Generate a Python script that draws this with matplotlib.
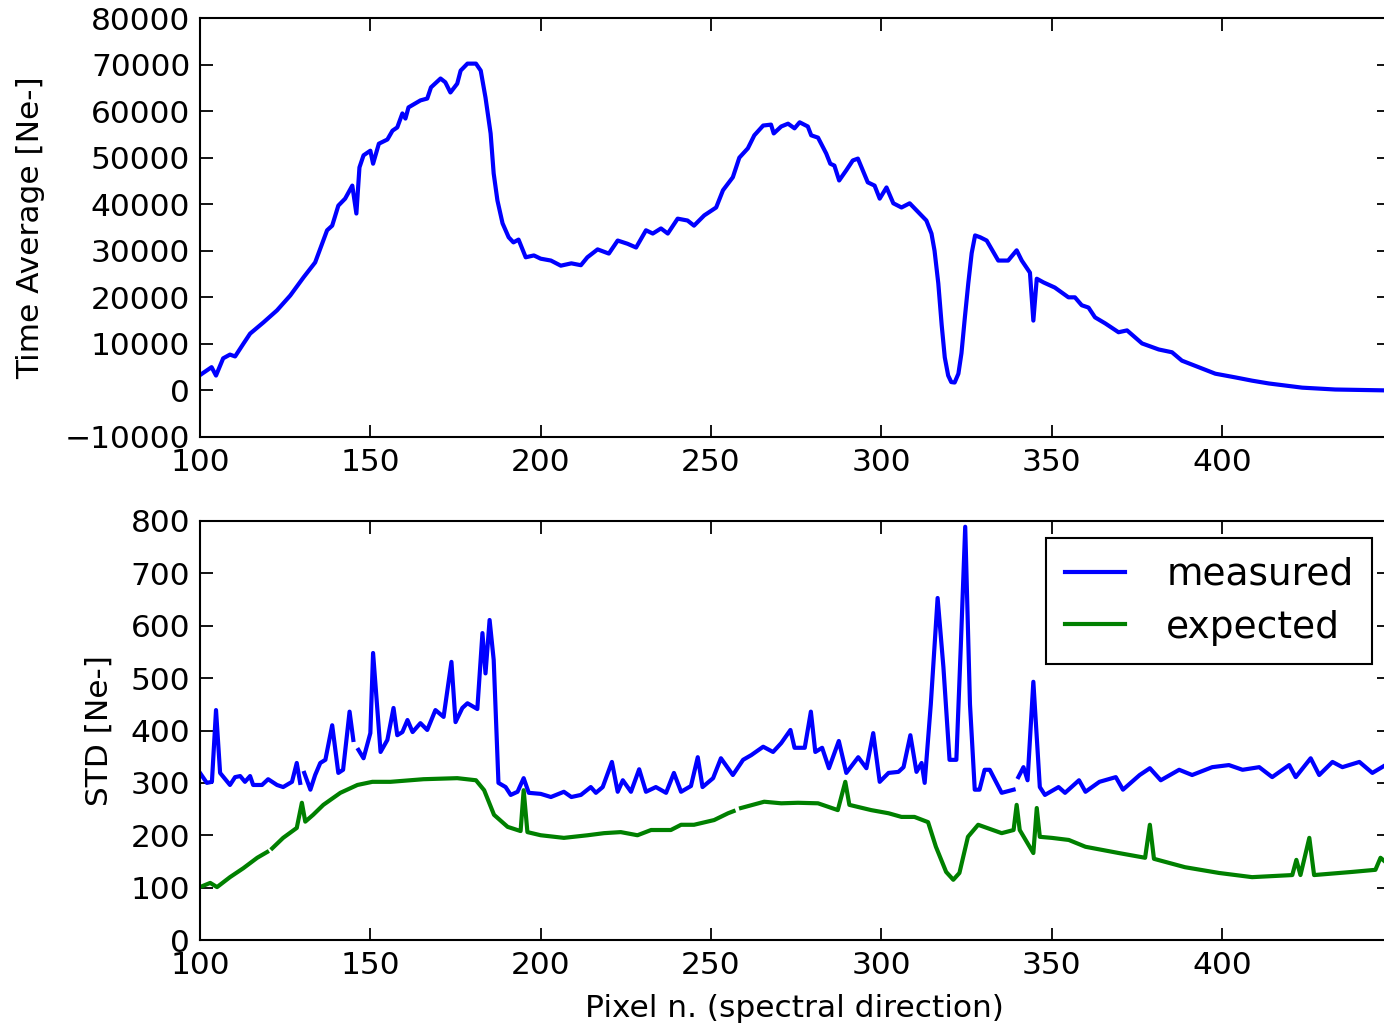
import numpy as np
import matplotlib
matplotlib.use("Agg")
import matplotlib.pyplot as plt

nan = np.nan

# ---------------- top panel: time average ----------------
x_avg = [100, 103.4, 104.7, 106.8, 108.8, 110.3, 112.7, 114.7, 118.6, 122.6, 126.5, 130.4,
         133.8, 137.3, 138.8, 140.6, 142.6, 144.7, 145.9, 146.8, 148, 150, 150.8, 152.5,
         155, 156.5, 157.9, 159.4, 160.3, 161.2, 164.7, 166.7, 167.8, 170.6, 172, 173.5,
         175.5, 176.5, 178.5, 181, 182.4, 183.8, 185.3, 186.2, 187.3, 188.8, 190.6, 192,
         193.5, 195.6, 198, 200, 203, 205.9, 209, 211.8, 213.7, 216.7, 220, 222.6, 225.5,
         228, 230.9, 232.9, 235.3, 237.3, 240.2, 243.1, 245, 248, 251.5, 253.5, 256.4,
         258.3, 260.8, 262.7, 265.3, 267.6, 268.4, 270.6, 272.6, 274.5, 276, 278.4, 279.4,
         281.4, 283.8, 285, 286.2, 287.6, 289.7, 291.6, 293.1, 296, 298, 299.5, 301.5,
         303.5, 305.9, 308.3, 310.3, 313.2, 314.7, 315.6, 316.7, 317.7, 318.6, 319.6, 320.5,
         321.5, 322.6, 323.5, 324.5, 325.5, 326.5, 327.5, 329, 330.9, 334.3, 337.2, 339.7,
         341.2, 343.6, 344.6, 345.6, 347.6, 350.9, 354.9, 356.8, 358.8, 360.8, 362.7, 365.7,
         369.6, 372.1, 376.5, 381.4, 385.3, 388.2, 394.1, 398, 403.9, 408.8, 413.7, 423.5,
         433.2, 449]
time_avg = [3300, 5000, 3200, 6900, 7700, 7300, 10000, 12200, 14600, 17200, 20400, 24300,
            27500, 34400, 35400, 39700, 41200, 44000, 38000, 47900, 50500, 51500, 48700, 53000,
            53900, 55800, 56500, 59500, 58400, 60800, 62300, 62700, 65100, 67000, 66200, 64000,
            65900, 68700, 70200, 70200, 68700, 62900, 55200, 46600, 40800, 35900, 32900, 31800,
            32400, 28600, 29000, 28300, 27900, 26800, 27300, 26900, 28600, 30300, 29400, 32200, 31500,
            30700, 34400, 33700, 34800, 33700, 36900, 36500, 35400, 37600, 39300, 43000, 45800,
            50000, 52000, 54800, 56900, 57100, 55200, 56700, 57300, 56300, 57600, 56700, 54800,
            54300, 50900, 48700, 48300, 45100, 47300, 49400, 49800, 44700, 44000, 41200, 43600,
            40200, 39300, 40200, 38700, 36500, 33700, 30000, 23000, 14000, 7100, 3200, 1800,
            1700, 3600, 8000, 15700, 23000, 29500, 33300, 32900, 32200, 27900, 27900, 30100,
            27900, 25300, 15000, 24000, 23200, 22100, 20000, 20000, 18300, 17800, 15700, 14400,
            12500, 12900, 10100, 8800, 8200, 6400, 4700, 3600, 2800, 2100, 1500, 600,
            200, 0]

# ---------------- bottom panel: STD ----------------
x_meas = [100, 102, 103.5, 104.7, 105.9, 108.8, 110.3, 111.8, 113.2, 114.7, 115.6, 118.2,
          120, 122.6, 124.4, 127, 128.4, 129.4, 130, 130.6, 132.4, 133.8, 135.3, 136.8, 138.8,
          140.6, 142, 143.9, 145, 145.8, 146.5, 148, 150, 150.8, 153, 155, 156.8, 157.9,
          159.4, 160.9, 162.4, 164.7, 166.7, 169.1, 171.5, 173.8, 175, 177, 178.5, 181.4,
          182.9, 183.8, 185, 186.2, 187.6, 189.7, 191.2, 193.2, 195, 196.5, 200, 203, 206.8,
          209, 211.8, 214.7, 216.2, 218.2, 220.9, 222.6, 224.1, 226.5, 228.9, 230.9, 233.8,
          236.8, 239.1, 241.2, 244.1, 246.1, 247.5, 250.6, 252.9, 256.4, 259.4, 261.8, 265.3,
          268.2, 270.6, 273.3, 274.5, 277.5, 279.3, 280.6, 282.6, 284.6, 287.5, 289.7, 293.2,
          295.6, 297.6, 299.5, 302.1, 305, 306.5, 308.5, 310.3, 311.8, 312.7, 314.5, 316.5,
          318.2, 320, 322, 323.3, 324.6, 326, 327.4, 328.8, 330.3, 331.8, 335.3, 338.8, 339.5,
          340.2, 341.7, 342.9, 344.6, 346.5, 348, 352, 353.9, 358, 359.9, 364, 368.8, 370.9,
          375.8, 378.8, 382, 387.4, 391.2, 397.1, 402, 406, 410.9, 414.7, 419.7, 421.6, 426,
          428.5, 432.4, 435.3, 440.3, 444.1, 449]
std_meas = [319, 300, 302, 439, 319, 296, 311, 313, 302, 313, 296, 296,
            307, 296, 292, 302, 338, 300, nan, 319, 287, 315, 338, 344, 410,
            319, 325, 436, 382, nan, 363, 347, 395, 548, 359, 382, 443, 391,
            397, 420, 397, 414, 401, 439, 426, 531, 416, 443, 452, 441,
            586, 509, 611, 535, 300, 292, 277, 283, 309, 281, 279, 273, 283,
            273, 277, 292, 281, 292, 340, 283, 305, 283, 326, 283, 292,
            281, 319, 283, 294, 349, 292, 309, 347, 315, 344, 353, 369,
            359, 376, 401, 367, 367, 436, 359, 367, 328, 380, 319, 349,
            328, 395, 302, 319, 321, 330, 391, 321, 338, 300, 450, 653,
            521, 344, 344, 560, 789, 450, 287, 287, 325, 325, 281, 287, nan,
            311, 330, 305, 493, 292, 277, 292, 281, 305, 283, 302, 311, 287,
            315, 328, 305, 325, 315, 330, 334, 325, 330, 311, 334, 311, 347,
            315, 340, 330, 340, 319, 338]

x_exp = [100, 103, 105, 108.8, 112.7, 116.8, 119.7, 120.3, 121.2, 124.4, 128.4, 129.9, 130.9,
         133.2, 136.2, 141.2, 146.2, 150.6, 155.9, 165.6, 175.5, 181, 183.4, 186.3, 190.3,
         194.1, 195, 196.1, 200, 206.8, 213.8, 218.6, 223.5, 228.4, 232.4, 238.2, 241.2,
         245, 250.9, 255, 256.6, 257.2, 258.8, 265.6, 270.6, 275.5, 281.4, 287.2, 289.4,
         290.6, 297, 302.1, 305.9, 309.7, 313.7, 316, 319, 321.1, 322.9, 325.4, 328.4,
         335.3, 338.8, 339.7, 340.6, 344.6, 345.6, 346.5, 350, 355, 359.9, 369.7, 377.4,
         378.8, 380, 389.1, 399.1, 408.8, 420.6, 421.8, 423, 425.6, 427, 438.2, 445, 446.5,
         449]
std_exp = [101, 109, 101, 120, 137, 157, 168, nan, 175, 195, 214, 262, 226,
           239, 258, 281, 296, 302, 302, 307, 309, 305, 286, 239, 216,
           208, 286, 206, 200, 195, 200, 204, 206, 200, 210, 210, 220,
           220, 229, 242, 246, nan, 252, 264, 261, 262, 261, 248, 302,
           258, 248, 242, 235, 235, 225, 178, 130, 115, 128, 197, 220,
           204, 210, 258, 210, 166, 252, 197, 195, 191, 178, 166, 157,
           220, 155, 139, 128, 120, 124, 153, 124, 195, 124, 130, 134, 157,
           143]

avg_yticks = list(range(-10000, 80001, 10000))
std_yticks = list(range(0, 801, 100))
x_ticks = [100, 150, 200, 250, 300, 350, 400]

plt.rcParams.update({
    "font.family": ["DejaVu Sans"],
    "font.size": 22.5,
    "xtick.direction": "in",
    "ytick.direction": "in",
    "xtick.top": True,
    "ytick.right": True,
    "xtick.major.size": 9,
    "ytick.major.size": 9,
    "xtick.major.width": 1.3,
    "ytick.major.width": 1.3,
    "xtick.major.pad": 8,
    "ytick.major.pad": 7,
    "axes.linewidth": 1.5,
})

W, H = 1384, 1027
X0, X1 = 100, 449
fig = plt.figure(figsize=(W / 100, H / 100), dpi=100)
left = 200 / W
width = (X1 - X0) * 3.407 / W
ax1 = fig.add_axes([left, (H - 437) / H, width, 419 / H])
ax2 = fig.add_axes([left, (H - 940) / H, width, 419 / H])

ax1.plot(x_avg, time_avg, color=(0, 0, 1), lw=3)
ax1.set_xlim(X0, X1)
ax1.set_ylim(-10000, 80000)
ax1.set_yticks(avg_yticks)
ax1.set_xticks(x_ticks)
ax1.set_ylabel("Time Average [Ne-]", labelpad=14)

ax2.plot(x_meas, std_meas, color=(0, 0, 1), lw=3, label="measured")
ax2.plot(x_exp, std_exp, color=(0, 0.5, 0), lw=3, label="expected")
ax2.set_xlim(X0, X1)
ax2.set_ylim(0, 800)
ax2.set_yticks(std_yticks)
ax2.set_xticks(x_ticks)
ax2.set_ylabel("STD [Ne-]", labelpad=12)
ax2.set_xlabel("Pixel n. (spectral direction)", labelpad=10)
leg = ax2.legend(loc="upper right", fontsize=27, fancybox=False, framealpha=1,
                 edgecolor="black", handlelength=1.6, handletextpad=1.1,
                 borderpad=0.5, labelspacing=0.45, borderaxespad=0.45,
                 bbox_to_anchor=(1.0, 1.0))
leg.get_frame().set_linewidth(1.5)

fig.savefig("out.png", dpi=100)
